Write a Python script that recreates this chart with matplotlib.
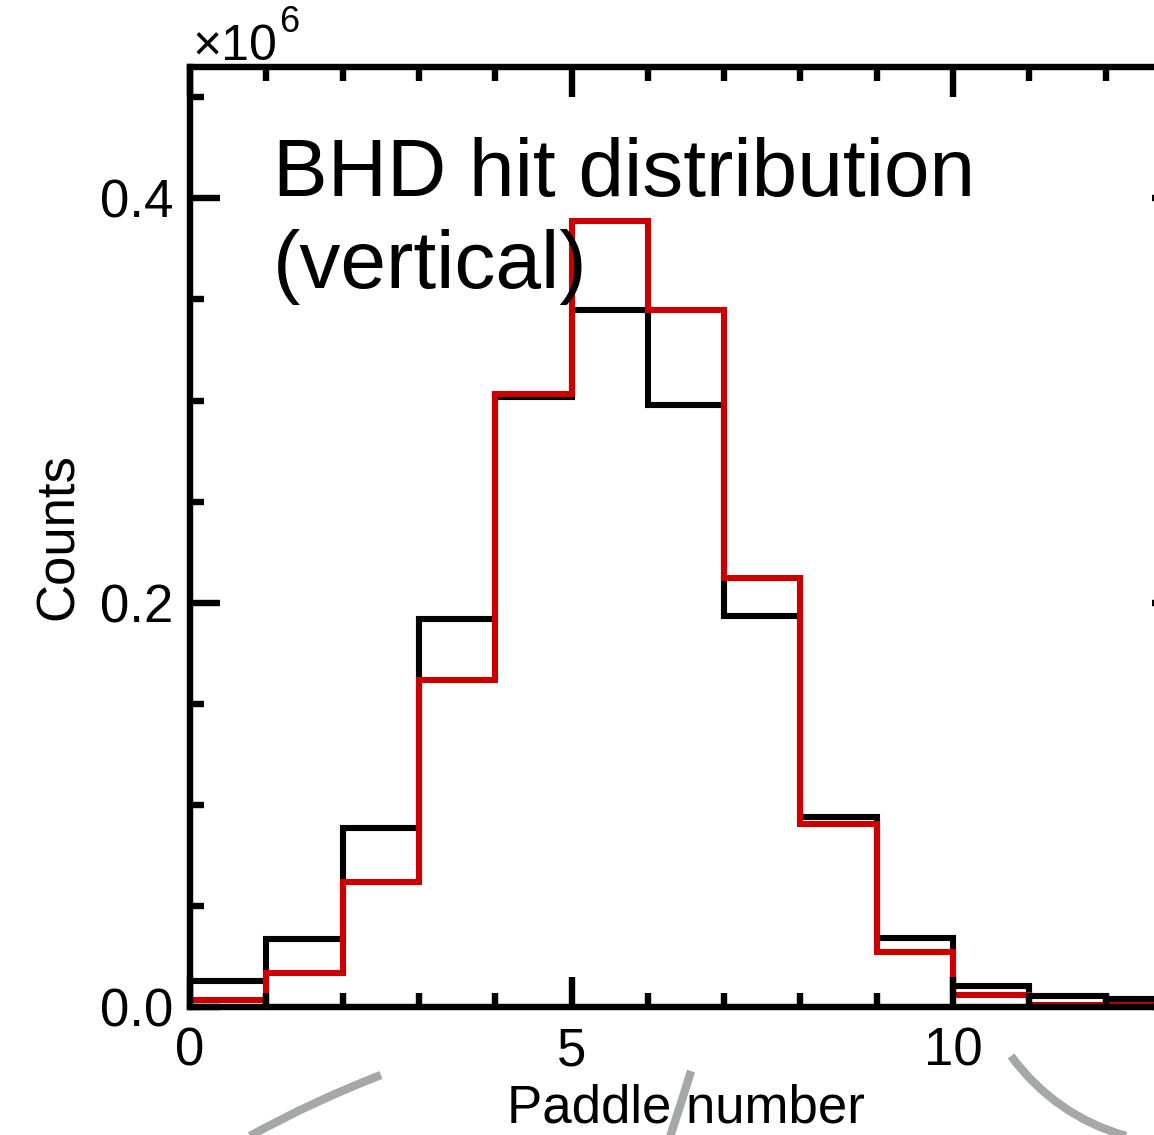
import numpy as np
import matplotlib
matplotlib.use('Agg')
import matplotlib.pyplot as plt
from matplotlib.ticker import MultipleLocator
from matplotlib.path import Path
from matplotlib.patches import PathPatch

plt.rcParams['font.family'] = ['Liberation Sans', 'DejaVu Sans']

# Paddle bin edges and counts (in units of 1e6)
edges = np.arange(0, 14)
counts_black = [0.0129, 0.0337, 0.0886, 0.192, 0.302, 0.345, 0.298,
                0.1936, 0.094, 0.034, 0.0104, 0.0054, 0.004]
counts_red = [0.0035, 0.0168, 0.0619, 0.162, 0.303, 0.389, 0.345,
              0.212, 0.0906, 0.027, 0.006, 0.0012, 0.0010]

W, H = 1154, 1135
fig = plt.figure(figsize=(W / 100, H / 100), dpi=100)

# axes runs a bit past the right edge of the picture, as in the original
ax = fig.add_axes([190 / W, 128 / H, 992 / W, 940 / H])

ax.stairs(counts_black, edges, color='black', lw=4.4, baseline=None)
ax.stairs(counts_red, edges, color='#cc0000', lw=4.4, baseline=None)

ax.set_xlim(0, 13)
ax.set_ylim(0, 0.465)

ax.xaxis.set_major_locator(MultipleLocator(5))
ax.xaxis.set_minor_locator(MultipleLocator(1))
ax.yaxis.set_major_locator(MultipleLocator(0.2))
ax.yaxis.set_minor_locator(MultipleLocator(0.05))
ax.yaxis.set_major_formatter(lambda v, p: f'{v:.1f}')

for s in ax.spines.values():
    s.set_linewidth(4.6)
ax.tick_params(which='both', direction='in', top=True, right=True, width=4.6)
ax.tick_params(which='major', length=21.5, labelsize=38)
ax.tick_params(which='minor', length=10)
ax.tick_params(axis='x', which='major', pad=14)
ax.tick_params(axis='y', which='major', pad=12)

ax.set_xlabel('Paddle number', fontsize=38)
ax.set_ylabel('Counts', fontsize=38)
ax.xaxis.set_label_coords(0.5, -0.081)
ax.yaxis.set_label_coords(-0.107, 0.5)

ax.text(0.0837, 0.926, 'BHD hit distribution\n(vertical)', transform=ax.transAxes,
        fontsize=59, ha='left', va='top', linespacing=1.28)

# scale factor label
fig.text(193 / W, 1 - 60 / H, '×10', fontsize=36, ha='left', va='baseline')
fig.text(279 / W, 1 - 32 / H, '6', fontsize=26, ha='left', va='baseline')

# grey decorative arcs along the bottom
grey = '#a5a8a6'
arcs = [
    [(381, 1075), (315, 1103), (250, 1136)],
    [(691, 1071), (681, 1103), (670, 1137)],
    [(1011, 1056), (1062, 1106), (1126, 1136)],
]
for pts in arcs:
    p0, p1, p2 = pts
    # control point so the quadratic passes through the middle point
    c = (2 * p1[0] - 0.5 * (p0[0] + p2[0]), 2 * p1[1] - 0.5 * (p0[1] + p2[1]))
    verts = [(x / W, 1 - y / H) for x, y in (p0, c, p2)]
    path = Path(verts, [Path.MOVETO, Path.CURVE3, Path.CURVE3])
    fig.patches.append(PathPatch(path, transform=fig.transFigure, fill=False,
                                 edgecolor=grey, lw=6, capstyle='butt'))

fig.savefig('out.png', dpi=100)
